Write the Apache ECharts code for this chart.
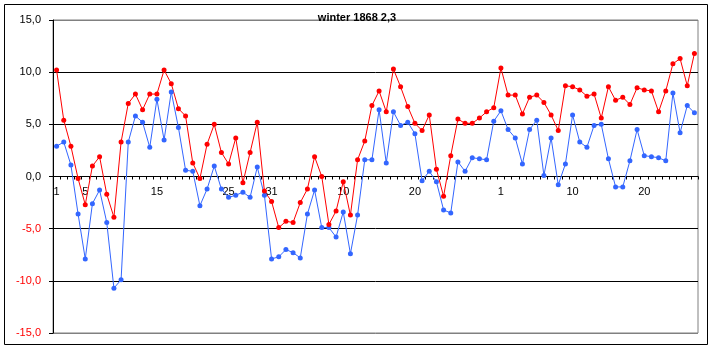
<!DOCTYPE html>
<html>
<head>
<meta charset="utf-8">
<script src="https://cdn.jsdelivr.net/npm/echarts@6/dist/echarts.min.js"></script>
<style>
  html, body { margin: 0; padding: 0; background: #fff; }
  #winter-chart { width: 714px; height: 352px; }
</style>
</head>
<body>
<div id="winter-chart"></div>
<script>
// Dec 1 .. Feb 28, one point per day
const redValues = [
  10.2, 5.4, 2.9, -0.2, -2.7, 1.0, 1.9, -1.7, -3.9, 3.3,
  7.0, 7.9, 6.4, 7.9, 7.9, 10.2, 8.9, 6.5, 5.8, 1.3,
  -0.2, 3.1, 5.0, 2.3, 1.2, 3.7, -0.6, 2.3, 5.2, -1.4,
  -2.4, -4.9, -4.3, -4.4, -2.5, -1.2, 1.9, 0.0, -4.6, -3.3,
  -0.5, -3.7, 1.6, 3.4, 6.8, 8.2, 6.2, 10.3, 8.6, 6.7,
  5.1, 4.4, 5.9, 0.7, -1.9, 2.0, 5.5, 5.1, 5.1, 5.6,
  6.2, 6.6, 10.4, 7.8, 7.8, 6.0, 7.6, 7.8, 7.1, 5.9,
  4.4, 8.7, 8.6, 8.3, 7.7, 7.9, 5.6, 8.6, 7.3, 7.6,
  6.9, 8.5, 8.3, 8.2, 6.2, 8.2, 10.8, 11.3, 8.7, 11.8
];
const blueValues = [
  2.9, 3.3, 1.1, -3.6, -7.9, -2.6, -1.3, -4.4, -10.7, -9.9,
  3.3, 5.8, 5.2, 2.8, 7.4, 3.5, 8.1, 4.7, 0.6, 0.5,
  -2.8, -1.2, 1.0, -1.2, -2.0, -1.8, -1.5, -2.0, 0.9, -1.8,
  -7.9, -7.7, -7.0, -7.3, -7.8, -3.6, -1.3, -4.9, -4.9, -5.8,
  -3.4, -7.4, -3.7, 1.6, 1.6, 6.4, 1.3, 6.2, 4.9, 5.2,
  4.1, -0.4, 0.5, -0.5, -3.2, -3.5, 1.4, 0.5, 1.8, 1.7,
  1.6, 5.3, 6.3, 4.5, 3.7, 1.2, 4.5, 5.4, 0.1, 3.7,
  -0.8, 1.2, 5.9, 3.3, 2.8, 4.9, 5.0, 1.7, -1.0, -1.0,
  1.5, 4.5, 2.0, 1.9, 1.8, 1.5, 8.0, 4.2, 6.8, 6.1
];
// which category gets a label, and what it says
const labelPos = [0, 4, 14, 24, 30, 40, 50, 62, 72, 82];
const labelText = ['1', '5', '15', '25', '31', '10', '20', '1', '10', '20'];
const yTicks = [-15, -10, -5, 0, 5, 10, 15];

const categories = redValues.map((v, i) => String(i));
const font = '"Liberation Sans", Arial, sans-serif';

const gridTop = 20, gridBottom = 19, chartHeight = 352;

const chart = echarts.init(document.getElementById('winter-chart'));

const option = {
  animation: false,
  backgroundColor: '#fff',
  title: {
    text: 'winter 1868 2,3',
    left: 'center',
    top: 7,
    textStyle: { fontFamily: font, fontSize: 11, fontWeight: 'bold', color: '#000' }
  },
  graphic: [{
    type: 'rect',
    shape: { x: 4.5, y: 4.5, width: 703, height: 340 },
    style: { fill: 'none', stroke: '#000', lineWidth: 1 },
    silent: true
  }],
  grid: {
    left: 53, right: 16, top: gridTop, bottom: gridBottom,
    containLabel: false,
    show: true,
    borderColor: '#808080',
    borderWidth: 1
  },
  xAxis: {
    type: 'category',
    data: categories,
    boundaryGap: true,
    position: 'bottom',
    // x axis crosses the value axis at 0 (middle of the -15..15 range)
    offset: -(chartHeight - gridTop - gridBottom) / 2,
    axisLine: { onZero: false, lineStyle: { color: '#000', width: 1 } },
    axisTick: { show: true, interval: 0, length: 3, lineStyle: { color: '#000' } },
    axisLabel: {
      interval: (i) => labelPos.indexOf(i) >= 0,
      formatter: (v, i) => {
        const k = labelPos.indexOf(Number(v));
        return k >= 0 ? labelText[k] : '';
      },
      margin: 10,
      fontFamily: font,
      fontSize: 11,
      color: '#000'
    },
    splitLine: { show: false }
  },
  yAxis: {
    type: 'value',
    min: yTicks[0],
    max: yTicks[yTicks.length - 1],
    interval: 5,
    axisLine: { show: true, lineStyle: { color: '#000' } },
    axisTick: { show: true, length: 4, lineStyle: { color: '#000' } },
    axisLabel: {
      margin: 12,
      fontFamily: font,
      fontSize: 11,
      formatter: (v) => v.toFixed(1).replace('.', ','),
      color: (v) => (Number(v) < 0 ? '#ff0000' : '#000')
    },
    splitLine: {
      show: true,
      lineStyle: {
        color: ['#808080', '#000', '#000', '#000', '#000', '#000', '#808080'],
        width: 1
      }
    }
  },
  series: [
    {
      name: 'blue',
      type: 'line',
      data: blueValues,
      symbol: 'circle',
      symbolSize: 5,
      showAllSymbol: true,
      lineStyle: { color: '#3366ff', width: 1 },
      itemStyle: { color: '#3366ff' }
    },
    {
      name: 'red',
      type: 'line',
      data: redValues,
      symbol: 'circle',
      symbolSize: 5,
      showAllSymbol: true,
      lineStyle: { color: '#ff0000', width: 1 },
      itemStyle: { color: '#ff0000' }
    }
  ]
};

chart.setOption(option);
</script>
</body>
</html>
